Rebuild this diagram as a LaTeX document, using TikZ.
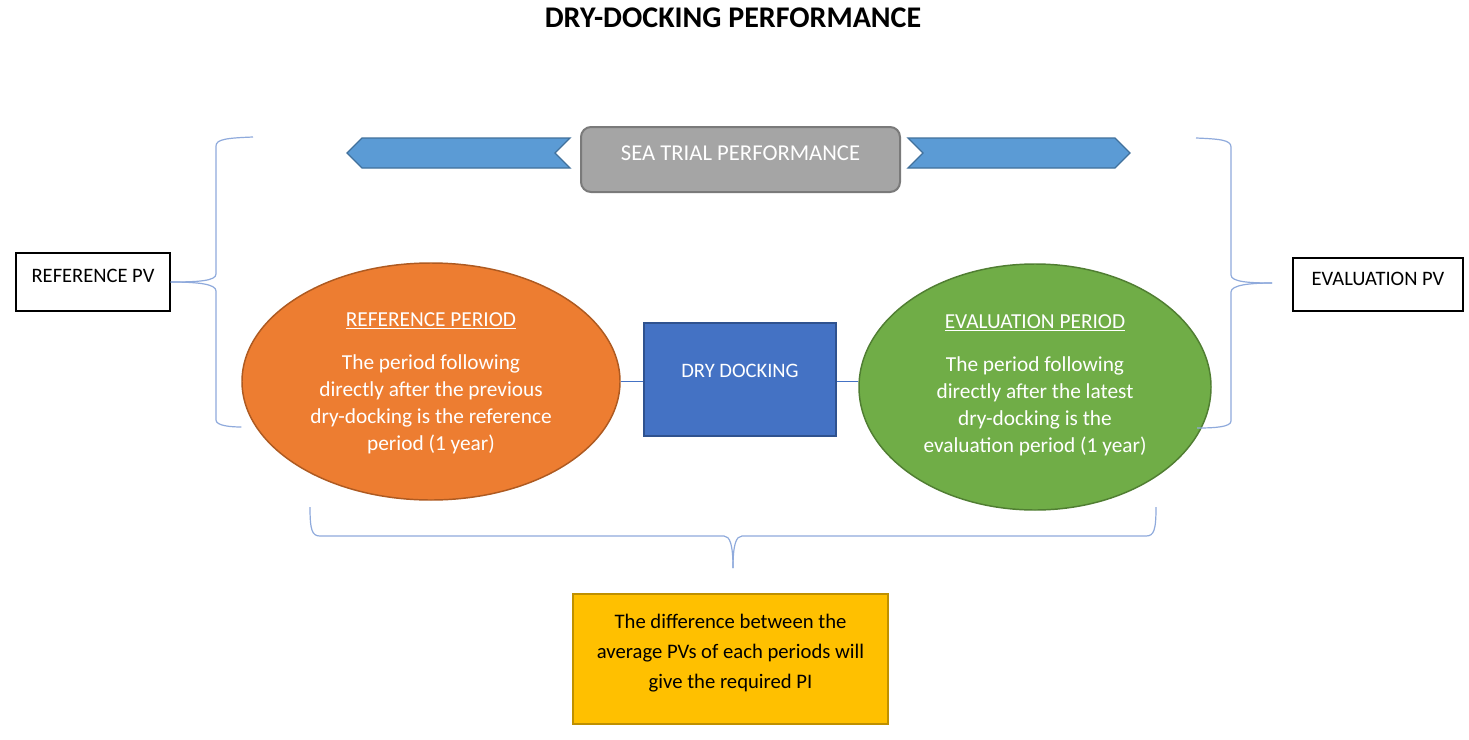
\documentclass[tikz,border=0pt]{standalone}
\usepackage{fontspec}
\setmainfont{Carlito}
\usetikzlibrary{shapes.geometric}
\definecolor{bannerfill}{HTML}{5B9BD5}
\definecolor{bannerdraw}{HTML}{41719C}
\definecolor{seafill}{HTML}{A5A5A5}
\definecolor{seadraw}{HTML}{7A7A7A}
\definecolor{orangefill}{HTML}{ED7D31}
\definecolor{orangedraw}{HTML}{AE5A21}
\definecolor{greenfill}{HTML}{70AD47}
\definecolor{greendraw}{HTML}{507E32}
\definecolor{ddfill}{HTML}{4472C4}
\definecolor{dddraw}{HTML}{2F528F}
\definecolor{goldfill}{HTML}{FFC000}
\definecolor{golddraw}{HTML}{BF9000}
\definecolor{braceblue}{HTML}{8FAADC}
\definecolor{connblue}{HTML}{4472C4}
\begin{document}
\begin{tikzpicture}[x=0.75pt,y=-0.75pt,
  bracepath/.style={draw=braceblue,line width=0.9pt},
  conn/.style={draw=connblue,line width=0.9pt},
  banner/.style={fill=bannerfill,draw=bannerdraw,line width=1pt},
  txt/.style={font=\fontsize{15.4}{20.25}\selectfont,align=center},
  wtxt/.style={txt,text=white},
  elltxt/.style={wtxt,font=\fontsize{16}{20.25}\selectfont},
  pvbox/.style={draw=black,line width=0.9pt,fill=white,inner sep=0pt},
  periodell/.style={ellipse,inner sep=0pt,line width=1.1pt,minimum width=283.5pt}]
\useasboundingbox (0,0) rectangle (1469,739);
\fill[white] (0,0) rectangle (1469,739);

% title
\node[font=\fontsize{22.5}{26}\selectfont\bfseries] (title) at (733,18) {DRY-DOCKING PERFORMANCE};

% sea trial
\node[draw=seadraw,fill=seafill,rounded corners=7.5pt,line width=1.5pt,
      minimum width=239.25pt,minimum height=48.75pt,inner sep=0pt,
      label={[wtxt,font=\fontsize{17}{20}\selectfont,yshift=4.6pt]center:SEA TRIAL PERFORMANCE}] (sea) at (740.5,159.5) {};

% banners
\draw[banner] (362,138) -- (570,138) -- (555,153) -- (570,168) -- (362,168) -- (347,153) -- cycle;
\draw[banner] (908,138) -- (1115,138) -- (1130,153) -- (1115,168) -- (908,168) -- (923,153) -- cycle;

% PV boxes
\node[pvbox,minimum width=115.5pt,minimum height=43.5pt,
      label={[txt,yshift=4.5pt]center:REFERENCE PV}] (refpv) at (93,282) {};
\node[pvbox,minimum width=127.5pt,minimum height=39.75pt,
      label={[txt,yshift=4pt]center:EVALUATION PV}] (evalpv) at (1378,284.5) {};

% ellipses
\node[periodell,fill=orangefill,draw=orangedraw,minimum height=177.75pt,
      label={[elltxt,yshift=-1.1pt]center:{\underline{REFERENCE PERIOD}\\[12.25pt]The period following\\directly after the previous\\dry-docking is the reference\\period (1 year)}}] (refell) at (431,381.5) {};
\node[periodell,fill=greenfill,draw=greendraw,minimum width=264pt,minimum height=184.5pt,
      label={[elltxt,yshift=1.1pt]center:{\underline{EVALUATION PERIOD}\\[12.25pt]The period following\\directly after the latest\\dry-docking is the\\evaluation period (1 year)}}] (evalell) at (1035,387) {};

% dry docking
\node[draw=dddraw,fill=ddfill,line width=1.5pt,minimum width=144pt,minimum height=84.75pt,inner sep=0pt,
      label={[wtxt,yshift=6.4pt]center:DRY DOCKING}] (dd) at (740,379.5) {};

% connectors
\draw[conn] (refell.east) -- (refell.east -| dd.west);
\draw[conn] (dd.east |- refell.east) -- (evalell.west |- refell.east);

% result box
\node[draw=golddraw,fill=goldfill,line width=1.5pt,minimum width=236.25pt,minimum height=97.5pt,inner sep=0pt,
      label={[txt,font=\fontsize{15.5}{22.5}\selectfont,yshift=4.5pt]center:{The difference between the\\average PVs of each periods will\\give the required PI}}] (res) at (730.5,659) {};

% left brace
\draw[bracepath] (253,137) .. controls (228,138) and (216,139) .. (216,146) -- (216,274)
  .. controls (216,281) and (198,282) .. (refpv.east |- 0,282);
\draw[bracepath] (refpv.east |- 0,282) .. controls (198,282) and (216,284) .. (216,291) -- (216,420)
  .. controls (216,426) and (232,427) .. (refell.west |- 0,427);
% right brace
\draw[bracepath] (1196,138) .. controls (1220,139) and (1231,140) .. (1231,147) -- (1231,275)
  .. controls (1231,282) and (1250,283) .. (1272,283);
\draw[bracepath] (1272,283) .. controls (1250,283) and (1231,285) .. (1231,292) -- (1231,421)
  .. controls (1231,427) and (1215,428) .. (1197,428);
% bottom brace
\draw[bracepath] (310,507) .. controls (310,530) and (312,536) .. (320,536) -- (724,536)
  .. controls (730,536) and (733,545) .. (733,568);
\draw[bracepath] (733,568) .. controls (733,545) and (736,536) .. (742,536) -- (1146,536)
  .. controls (1154,536) and (1156,530) .. (1156,507);
\end{tikzpicture}
\end{document}
